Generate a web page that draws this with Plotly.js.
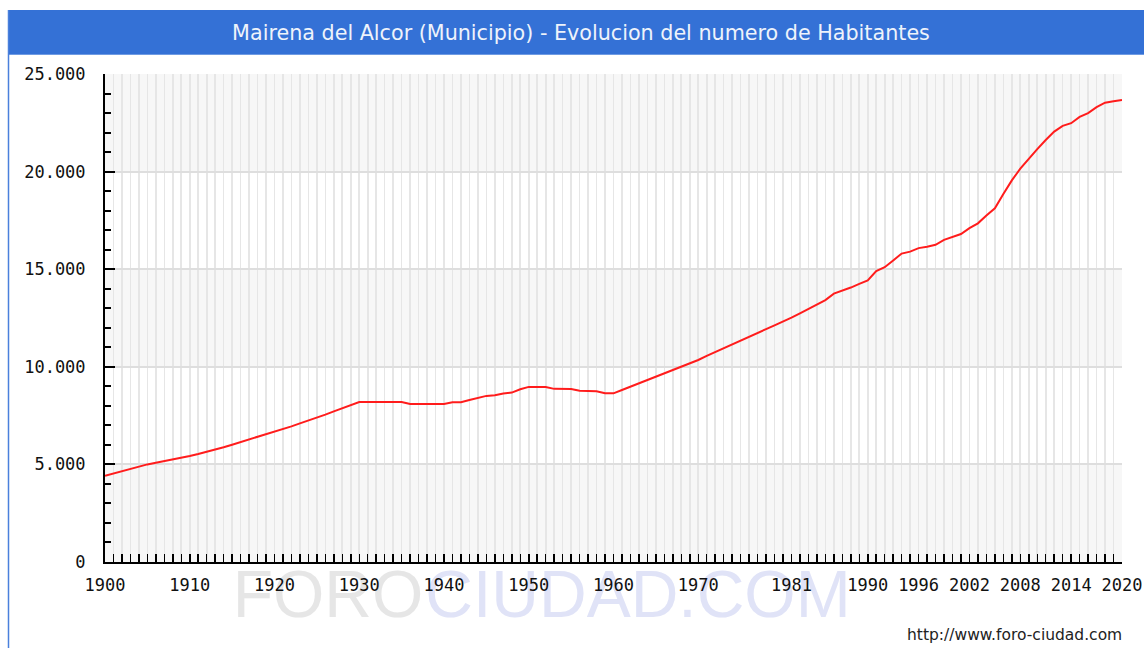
<!DOCTYPE html>
<html>
<head>
<meta charset="utf-8">
<script src="https://cdn.plot.ly/plotly-3.0.1.min.js"></script>
<style>
html,body{margin:0;padding:0;background:#fff;}
#chart{width:1144px;height:648px;}
</style>
</head>
<body>
<div id="chart"></div>
<script>
// ---- data ----
var firstYear = 1900;
var lastYear = 2020;
var population = [
  4420, 4530, 4660, 4790, 4900, 5000, 5080, 5160, 5250, 5340,
  5430, 5530, 5640, 5750, 5880, 6010, 6140, 6270, 6400, 6530,
  6660, 6800, 6950, 7100, 7240, 7380, 7550, 7720, 7880, 8050,
  8200, 8200, 8200, 8200, 8200, 8200, 8090, 8090, 8090, 8090,
  8100, 8180, 8190, 8300, 8390, 8510, 8540, 8630, 8680, 8850,
  8970, 8980, 8970, 8870, 8860, 8860, 8770, 8760, 8750, 8650,
  8640, 8810, 8980, 9170, 9320, 9480, 9640, 9810, 9990, 10170,
  10350, 10560, 10760, 10960, 11160, 11370, 11560, 11750, 11930, 12120,
  12300, 12520, 12740, 12960, 13190, 13420, 13750, 13900, 14060, 14250,
  14420, 14900, 15100, 15450, 15800, 15900, 16080, 16150, 16250, 16500,
  16650, 16800, 17100, 17350, 17750, 18120, 18850, 19550, 20150, 20680,
  21150, 21620, 22050, 22340, 22480, 22800, 23000, 23300, 23530, 23600,
  23670
];
var years = [];
for (var y = firstYear; y <= lastYear; y++) years.push(y);

var xTickYears = [1900, 1910, 1920, 1930, 1940, 1950, 1960, 1970, 1981, 1990, 1996, 2002, 2008, 2014, 2020];
var yTickValues = [0, 5000, 10000, 15000, 20000, 25000];
var bandRanges = [[0, 5000], [10000, 15000], [20000, 25000]];

var titleText = 'Mairena del Alcor (Municipio) - Evolucion del numero de Habitantes';
var watermarkGrey = 'FORO';
var watermarkBlue = 'CIUDAD.COM';
var urlText = 'http://www.foro-ciudad.com';

// ---- layout helpers (pixel -> paper) ----
var W = 1144, H = 648;
var mL = 105, mR = 22, mT = 74, mB = 86;
var pw = W - mL - mR, ph = H - mT - mB;
function px(x) { return (x - mL) / pw; }
function py(y) { return (H - mB - y) / ph; }

var shapes = [];
// alternating horizontal bands
bandRanges.forEach(function (b) {
  shapes.push({type: 'rect', xref: 'paper', yref: 'y', x0: 0, x1: 1, y0: b[0], y1: b[1],
    fillcolor: '#f7f7f7', line: {width: 0}, layer: 'below'});
});
// title bar
shapes.push({type: 'rect', xref: 'paper', yref: 'paper', x0: px(8), x1: px(1144), y0: py(55), y1: py(10),
  fillcolor: '#3471d6', line: {width: 0}, layer: 'below'});
shapes.push({type: 'line', xref: 'paper', yref: 'paper', x0: px(8), x1: px(1144), y0: py(54.5), y1: py(54.5),
  line: {color: '#6f9be3', width: 1}, layer: 'below'});
// left frame border
shapes.push({type: 'line', xref: 'paper', yref: 'paper', x0: px(8.5), x1: px(8.5), y0: py(10), y1: py(648),
  line: {color: '#4a80dc', width: 1.5}, layer: 'below'});
// watermark
shapes.push({type: 'rect', xref: 'paper', yref: 'paper', x0: px(234), x1: px(422), y0: py(616), y1: py(560),
  line: {width: 0}, fillcolor: 'rgba(0,0,0,0)', layer: 'below',
  label: {text: watermarkGrey, textposition: 'middle center',
    font: {family: 'Liberation Sans, Arial, sans-serif', size: 66, color: '#e6e6e6'}}});
shapes.push({type: 'rect', xref: 'paper', yref: 'paper', x0: px(430), x1: px(846), y0: py(616), y1: py(560),
  line: {width: 0}, fillcolor: 'rgba(0,0,0,0)', layer: 'below',
  label: {text: watermarkBlue, textposition: 'middle center',
    font: {family: 'Liberation Sans, Arial, sans-serif', size: 66, color: '#e0e3f7'}}});

var trace = {
  x: years,
  y: population,
  type: 'scatter',
  mode: 'lines',
  line: {color: '#ff1c1c', width: 2},
  hoverinfo: 'x+y'
};

var tickFont = {family: 'DejaVu Sans Mono, monospace', size: 17, color: '#111'};

var layout = {
  width: W, height: H,
  margin: {l: mL, r: mR, t: mT, b: mB, pad: 0},
  paper_bgcolor: '#ffffff',
  plot_bgcolor: '#ffffff',
  separators: ',.',
  showlegend: false,
  title: {
    text: titleText,
    font: {family: 'DejaVu Sans, Verdana, sans-serif', size: 20.7, color: '#eef3fb'},
    xref: 'container', yref: 'container',
    x: 581 / W, xanchor: 'center',
    y: 1 - 33 / H, yanchor: 'middle'
  },
  xaxis: {
    range: [firstYear, lastYear],
    tickmode: 'array',
    tickvals: xTickYears,
    ticktext: xTickYears.map(String),
    ticks: 'inside', ticklen: 8, tickwidth: 1.5, tickcolor: '#000',
    showline: true, linecolor: '#000', linewidth: 2,
    showgrid: true, gridcolor: '#e6e6e6', gridwidth: 1.6,
    zeroline: false,
    tickfont: tickFont,
    ticklabelstandoff: 7,
    ticklabeloverflow: 'allow',
    minor: {tickmode: 'linear', tick0: firstYear, dtick: 1, ticks: 'inside', ticklen: 8, tickwidth: 1.5,
      tickcolor: '#000', showgrid: true, gridcolor: '#e6e6e6', gridwidth: 1.6},
    fixedrange: true
  },
  yaxis: {
    range: [0, 25000],
    tickmode: 'array',
    tickvals: yTickValues,
    tickformat: ',d',
    ticks: 'inside', ticklen: 10, tickwidth: 2, tickcolor: '#000',
    showline: true, linecolor: '#000', linewidth: 2,
    showgrid: true, gridcolor: '#dedede', gridwidth: 2,
    zeroline: false,
    tickfont: tickFont,
    ticklabelstandoff: 14,
    ticklabeloverflow: 'allow',
    minor: {tickmode: 'linear', tick0: 0, dtick: 1000, ticks: 'inside', ticklen: 6, tickwidth: 2,
      tickcolor: '#000', showgrid: false},
    fixedrange: true
  },
  shapes: shapes,
  annotations: [{
    text: urlText, xref: 'paper', yref: 'paper',
    x: px(1124), y: py(635), xanchor: 'right', yanchor: 'middle',
    showarrow: false,
    font: {family: 'DejaVu Sans, Verdana, sans-serif', size: 15.5, color: '#222'}
  }]
};

Plotly.newPlot('chart', [trace], layout, {displayModeBar: false, staticPlot: true});
</script>
</body>
</html>
